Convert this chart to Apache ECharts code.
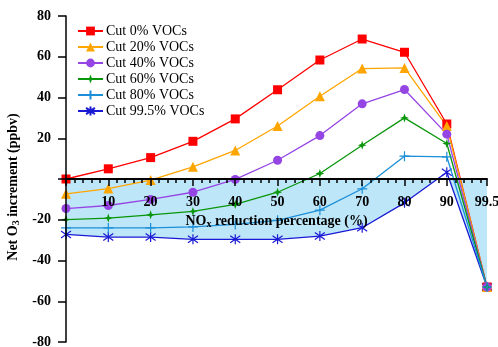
<!DOCTYPE html>
<html><head><meta charset="utf-8">
<script src="https://cdn.jsdelivr.net/npm/echarts@6/dist/echarts.min.js"></script>
<style>html,body{margin:0;padding:0;background:#fff}#c{width:498px;height:347px}</style>
</head><body><div id="c"></div>
<script>
const xValues = [0, 10, 20, 30, 40, 50, 60, 70, 80, 90, 99.5];
const seriesNames = ['Cut 0% VOCs', 'Cut 20% VOCs', 'Cut 40% VOCs', 'Cut 60% VOCs', 'Cut 80% VOCs', 'Cut 99.5% VOCs'];
const cut0 = [0, 5, 10.5, 18.5, 29.5, 43.8, 58.4, 68.7, 62.2, 27, -53];
const cut20 = [-7.3, -4.7, -0.5, 6, 14, 26, 40.6, 54.2, 54.5, 26, -53];
const cut40 = [-14.5, -13, -10, -6.5, -0.2, 9.2, 21.3, 36.9, 43.9, 22, -53];
const cut60 = [-19.9, -19.2, -17.6, -15.9, -12.5, -6.5, 2.7, 16.6, 30, 17.4, -53];
const cut80 = [-24, -24, -24, -23.5, -22.3, -20.3, -15.3, -4.8, 11.2, 10.9, -53];
const cut995 = [-27.2, -28.5, -28.5, -29.6, -29.6, -29.6, -28, -23.9, -11.7, 3.3, -53];
const xTickLabels = [10, 20, 30, 40, 50, 60, 70, 80, 90, 99.5];

const allData = [cut0, cut20, cut40, cut60, cut80, cut995];
const colors = ['#FF0000', '#FFA500', '#9645E5', '#0A960A', '#1B8FD8', '#1A1AD4'];
const symbols = [
  'rect', 'triangle', 'circle',
  'path://M5,0 L6.3,3.7 L10,5 L6.3,6.3 L5,10 L3.7,6.3 L0,5 L3.7,3.7 Z',
  'path://M0,5 L10,5 M5,0 L5,10',
  'path://M5,0 L5,10 M1,1.5 L9,8.5 M1,8.5 L9,1.5'
];
const symbolSizes = [9, 10, 9, 9, 10, 10];
const FONT = 'Liberation Serif';

const gridTop = 16, gridH = 326;
const zeroY = gridTop + gridH / 2;
const fill = new echarts.graphic.LinearGradient(0, zeroY - 200, 0, zeroY + 200, [
  {offset: 0, color: 'rgba(190,230,249,0)'},
  {offset: 0.5, color: 'rgba(190,230,249,0)'},
  {offset: 0.5, color: 'rgba(190,230,249,1)'},
  {offset: 1, color: 'rgba(190,230,249,1)'}
], true);

const series = allData.map((d, i) => {
  const open = i >= 4;
  return {
    name: seriesNames[i],
    type: 'line',
    data: xValues.map((x, j) => [x, d[j]]),
    symbol: symbols[i],
    symbolSize: symbolSizes[i],
    lineStyle: {color: colors[i], width: 1.3},
    itemStyle: {color: open ? 'rgba(0,0,0,0)' : colors[i], borderColor: colors[i], borderWidth: open ? 1.2 : 0},
    areaStyle: i === 5 ? {color: fill, opacity: 1} : undefined,
    z: i === 5 ? 2 : 3,
    animation: false
  };
});

const chart = echarts.init(document.getElementById('c'), null, {renderer: 'canvas'});
chart.setOption({
  animation: false,
  textStyle: {fontFamily: FONT},
  grid: {left: 66, right: 11, top: gridTop, height: gridH, containLabel: false, outerBoundsMode: 'none'},
  legend: {
    orient: 'vertical', left: 72, top: 19,
    itemWidth: 25, itemHeight: 11, itemGap: 2,
    textStyle: {fontFamily: FONT, fontSize: 14, color: '#000', padding: [0, 0, 0, -2]},
    data: seriesNames
  },
  xAxis: {
    type: 'value', min: 0, max: 99.5, interval: 10,
    position: 'bottom', offset: -(gridH / 2),
    axisLine: {show: true, onZero: false, lineStyle: {color: '#000', width: 2}},
    axisTick: {show: true, length: 7, lineStyle: {color: '#000', width: 1.5}},
    minorTick: {show: true, splitNumber: 5, length: 4, lineStyle: {color: '#000', width: 1.5}},
    splitLine: {show: false},
    axisLabel: {
      fontFamily: FONT, fontWeight: 'bold', fontSize: 14, color: '#000', margin: 16,
      formatter: v => (xTickLabels.indexOf(v) >= 0 ? String(v) : '')
    },
    name: '{b|NO}{s|x}{b| reduction percentage (%)}',
    nameLocation: 'middle', nameGap: 34,
    nameTextStyle: {
      rich: {
        b: {fontFamily: FONT, fontWeight: 'bold', fontSize: 14, color: '#000'},
        s: {fontFamily: FONT, fontWeight: 'bold', fontSize: 10, color: '#000', verticalAlign: 'bottom', padding: [6, 0, 0, 0]}
      }
    },
    z: 10
  },
  yAxis: {
    type: 'value', min: -80, max: 80, interval: 20,
    axisLine: {show: true, onZero: false, lineStyle: {color: '#000', width: 1.5}},
    axisTick: {show: true, length: 8, lineStyle: {color: '#000', width: 1.5}},
    splitLine: {show: false},
    axisLabel: {
      fontFamily: FONT, fontWeight: 'bold', fontSize: 14, color: '#000', margin: 15,
      formatter: v => (v === 0 ? '' : String(v))
    },
    name: '{b|Net O}{s|3}{b| increment (ppbv)}',
    nameLocation: 'middle', nameGap: 31, nameRotate: 90,
    nameTextStyle: {
      padding: [0, 16, 0, 0],
      rich: {
        b: {fontFamily: FONT, fontWeight: 'bold', fontSize: 14, color: '#000'},
        s: {fontFamily: FONT, fontWeight: 'bold', fontSize: 10, color: '#000', verticalAlign: 'bottom', padding: [6, 0, 0, 0]}
      }
    },
    z: 10
  },
  series: series
});
</script></body></html>
